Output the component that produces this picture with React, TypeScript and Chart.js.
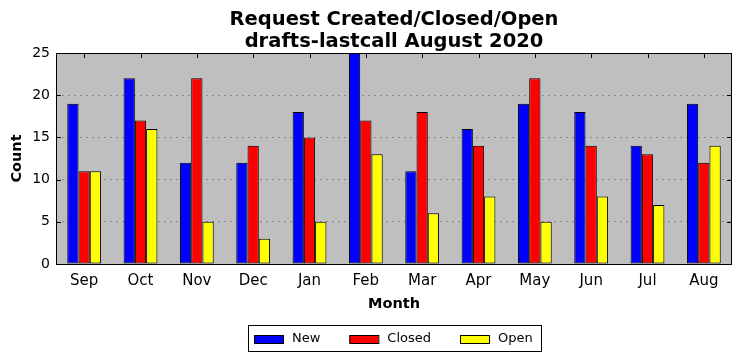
import React, { useEffect, useRef } from "react";
import { Chart, registerables } from "chart.js";

Chart.register(...registerables);

const categories = ["Sep", "Oct", "Nov", "Dec", "Jan", "Feb", "Mar", "Apr", "May", "Jun", "Jul", "Aug"];
const newValues = [19, 22, 12, 12, 18, 25, 11, 16, 19, 18, 14, 19];
const closedValues = [11, 17, 22, 14, 15, 17, 18, 14, 22, 14, 13, 12];
const openValues = [11, 16, 5, 3, 5, 13, 6, 8, 5, 8, 7, 14];
const yTicks = [0, 5, 10, 15, 20, 25];
const titleLines = ["Request Created/Closed/Open", "drafts-lastcall August 2020"];
const FONT = '"DejaVu Sans", sans-serif';

const bgPlugin = {
  id: "bgPlugin",
  beforeDraw(chart: any) {
    const { ctx, chartArea } = chart;
    ctx.save();
    ctx.fillStyle = "#bfbfbf";
    ctx.fillRect(chartArea.left, chartArea.top, chartArea.right - chartArea.left, chartArea.bottom - chartArea.top);
    ctx.restore();
  },
};

const framePlugin = {
  id: "framePlugin",
  afterDatasetsDraw(chart: any) {
    const { ctx, chartArea } = chart;
    const { left, right, top, bottom } = chartArea;
    ctx.save();
    ctx.strokeStyle = "#000";
    ctx.lineWidth = 1;
    const xs = chart.scales.x;
    const ys = chart.scales.y;
    ctx.beginPath();
    for (let i = 0; i < categories.length; i++) {
      const px = Math.round(xs.getPixelForValue(i)) + 0.5;
      ctx.moveTo(px, top);
      ctx.lineTo(px, top + 5);
    }
    for (const v of yTicks) {
      const py = Math.round(ys.getPixelForValue(v)) + 0.5;
      ctx.moveTo(left, py);
      ctx.lineTo(left + 5, py);
      ctx.moveTo(right, py);
      ctx.lineTo(right - 5, py);
    }
    ctx.stroke();
    ctx.strokeRect(Math.round(left) + 0.5, Math.round(top) + 0.5, Math.round(right - left) - 1, Math.round(bottom - top));
    ctx.restore();
  },
};

const titlePlugin = {
  id: "titlePlugin",
  afterDraw(chart: any) {
    const { ctx, chartArea } = chart;
    const cx = (chartArea.left + chartArea.right) / 2;
    ctx.save();
    ctx.fillStyle = "#000";
    ctx.font = `bold 19.5px ${FONT}`;
    ctx.textAlign = "center";
    ctx.textBaseline = "alphabetic";
    ctx.fillText(titleLines[0], cx, 25);
    ctx.fillText(titleLines[1], cx, 47);
    ctx.restore();
  },
};

const legendPlugin = {
  id: "legendPlugin",
  afterDraw(chart: any) {
    const { ctx, chartArea } = chart;
    const cx = (chartArea.left + chartArea.right) / 2;
    ctx.save();
    ctx.font = `13px ${FONT}`;
    const items = chart.data.datasets.map((d: any) => ({ label: d.label, color: d.backgroundColor, w: ctx.measureText(d.label).width }));
    const boxW = 29, boxH = 8, gapBT = 9, gapItems = 29, padL = 6, padR = 8;
    let total = padL + padR + gapItems * (items.length - 1);
    for (const it of items) total += boxW + gapBT + it.w;
    const left = Math.round(cx - total / 2);
    const top = 325;
    const h = 26;
    ctx.fillStyle = "#fff";
    ctx.fillRect(left, top, total, h);
    ctx.strokeStyle = "#000";
    ctx.lineWidth = 1;
    ctx.strokeRect(left + 0.5, top + 0.5, Math.round(total), h);
    let x = left + padL;
    const cy = top + h / 2 + 0.5;
    ctx.textBaseline = "middle";
    ctx.textAlign = "left";
    for (const it of items) {
      ctx.fillStyle = it.color;
      ctx.fillRect(x, Math.round(cy - boxH / 2), boxW, boxH);
      ctx.strokeRect(x + 0.5, Math.round(cy - boxH / 2) + 0.5, boxW, boxH);
      ctx.fillStyle = "#000";
      ctx.fillText(it.label, x + boxW + gapBT, cy);
      x += boxW + gapBT + it.w + gapItems;
    }
    ctx.restore();
  },
};

export default function App() {
  const ref = useRef<HTMLCanvasElement | null>(null);
  useEffect(() => {
    if (!ref.current) return;
    const mk = (label: string, data: number[], color: string) => ({
      label,
      data,
      backgroundColor: color,
      borderColor: "#000",
      borderWidth: 1,
      borderSkipped: false,
      barPercentage: 1,
      categoryPercentage: 0.6,
    });
    const chart = new Chart(ref.current, {
      type: "bar",
      data: {
        labels: categories,
        datasets: [mk("New", newValues, "#0000ff"), mk("Closed", closedValues, "#ff0000"), mk("Open", openValues, "#ffff00")],
      },
      options: {
        animation: false,
        responsive: true,
        maintainAspectRatio: false,
        layout: { padding: { top: 53, right: 10, left: 0, bottom: 0 } },
        plugins: { legend: { display: false }, title: { display: false }, tooltip: { enabled: false } },
        scales: {
          x: {
            grid: { display: false, drawTicks: false },
            border: { display: false },
            ticks: { color: "#000", font: { family: FONT, size: 15 }, padding: 8, maxRotation: 0 },
            title: { display: true, text: "Month", color: "#000", font: { family: FONT, size: 14.5, weight: "bold" }, padding: { top: 0, bottom: 48 } },
            afterFit: (s: any) => { s.height = 97; },
          },
          y: {
            min: 0,
            max: 25,
            afterBuildTicks: (s: any) => { s.ticks = yTicks.map((v) => ({ value: v })); },
            grid: { color: "#8a8a8a", drawTicks: false, lineWidth: 1 },
            border: { display: false, dash: [2, 4] },
            ticks: { color: "#000", font: { family: FONT, size: 14 }, padding: 6 },
            title: { display: true, text: "Count", color: "#000", font: { family: FONT, size: 14.5, weight: "bold" }, padding: { top: 9, bottom: 0 } },
            afterFit: (s: any) => { s.width = 56; },
          },
        },
      },
      plugins: [bgPlugin, framePlugin, titlePlugin, legendPlugin],
    } as any);
    return () => chart.destroy();
  }, []);
  return (
    <div style={{ position: "absolute", left: 0, top: 0, width: 742, height: 361, background: "#fff" }}>
      <canvas ref={ref} />
    </div>
  );
}
